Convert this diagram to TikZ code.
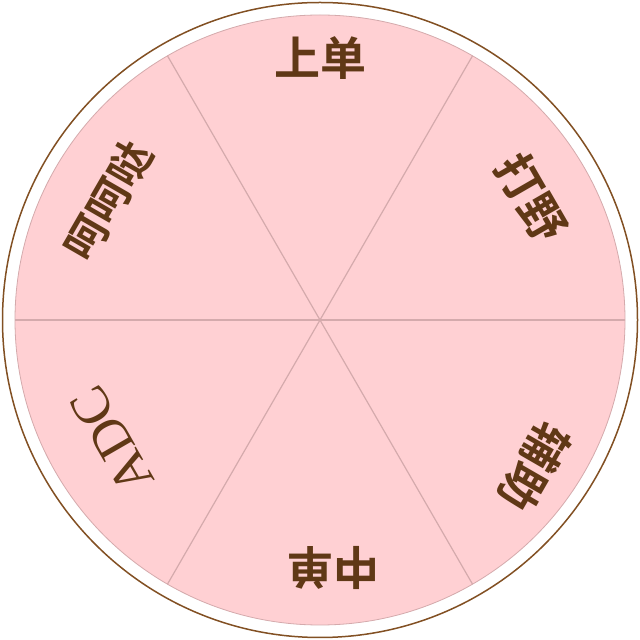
\documentclass[tikz,border=0pt]{standalone}
\usepackage{fontspec}
\usetikzlibrary{calc}
\setmainfont{Liberation Serif}
\newfontfamily\cjk{Noto Sans CJK SC Bold}
\definecolor{ringc}{RGB}{130,80,35}
\definecolor{pinkc}{RGB}{255,208,211}
\definecolor{linec}{RGB}{212,170,172}
\definecolor{textc}{RGB}{96,56,22}
\tikzset{
  lbl/.style={text=textc, font=\cjk\fontsize{46}{46}\selectfont, inner sep=0pt},
  lbllat/.style={text=textc, font=\fontsize{54}{54}\selectfont, inner sep=0pt},
  divider/.style={draw=linec, line width=1.2pt}
}
\begin{document}
\begin{tikzpicture}[x=1pt,y=1pt]
\useasboundingbox (0,0) rectangle (640,640);
\coordinate (c) at (320,320);
\draw[ringc, line width=1.5pt, fill=white] (c) circle (317.5);
\fill[pinkc] (c) circle (305);
\draw[linec, line width=0.8pt] (c) circle (305);
\draw[divider] ($(c)+(0:305)$) coordinate (a0) -- ($(c)+(180:305)$) coordinate (a180);
\draw[divider] ($(c)+(60:305)$) coordinate (a60) -- ($(c)+(240:305)$) coordinate (a240);
\draw[divider] ($(c)+(120:305)$) coordinate (a120) -- ($(c)+(300:305)$) coordinate (a300);
\node[lbl] (l1) at (320,582) {上单};
\node[lbl, rotate=-60] (l2) at (532,442) {打野};
\node[lbl, rotate=-120] (l3) at (535,173) {辅助};
\node[lbl, rotate=180] (l4) at (333,72) {中单};
\node[lbllat, rotate=120] (l5) at (112,200) {ADC};
\node[lbl, rotate=60, font=\cjk\fontsize{43}{43}\selectfont] (l6) at (108,439) {呵呵哒};
\end{tikzpicture}
\end{document}
